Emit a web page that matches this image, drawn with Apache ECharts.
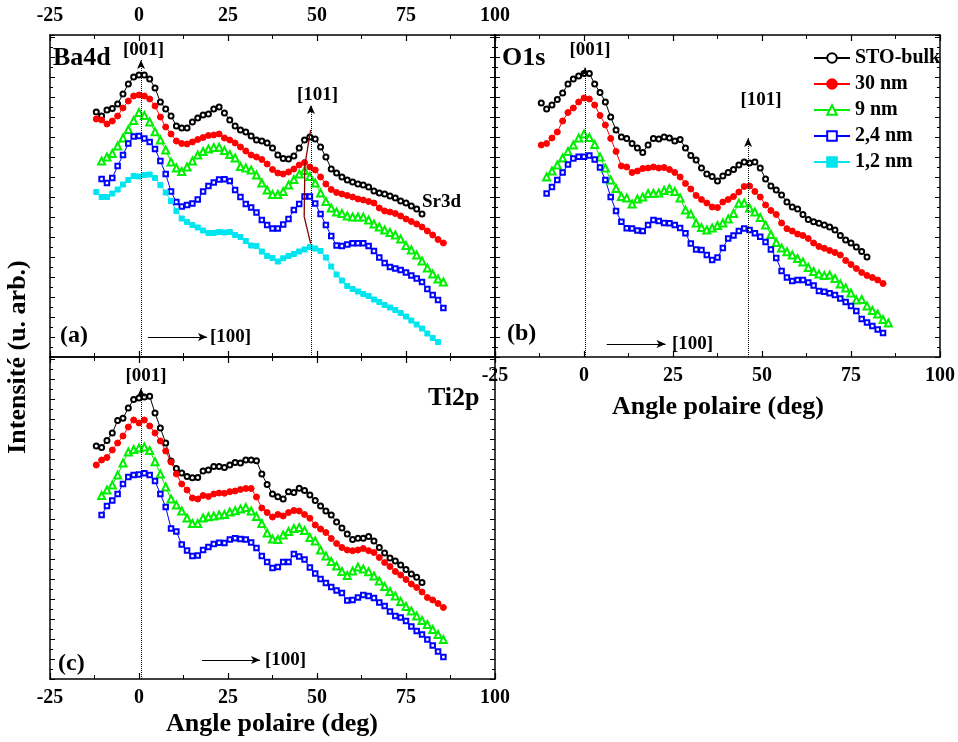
<!DOCTYPE html>
<html><head><meta charset="utf-8">
<script src="https://cdn.jsdelivr.net/npm/echarts@6/dist/echarts.min.js"></script>
<style>html,body{margin:0;padding:0;background:#fff}#c{width:958px;height:742px}</style>
</head><body><div id="c"></div>
<script>
// Polar angle grid (deg)
const ANGLES = [-12,-10.5,-9,-7.5,-6,-4.5,-3,-1.5,0,1.5,3,4.5,6,7.5,9,10.5,12,13.5,15,16.5,18,19.5,21,22.5,24,25.5,27,28.5,30,31.5,33,34.5,36,37.5,39,40.5,42,43.5,45,46.5,48,49.5,51,52.5,54,55.5,57,58.5,60,61.5,63,64.5,66,67.5,69,70.5,72,73.5,75,76.5,78,79.5,81,82.5,84,85.5];
const X_TICKS = [-25,0,25,50,75,100];
const NAMES = ['STO-bulk','30 nm','9 nm','2,4 nm','1,2 nm'];

// (a) Ba4d / Sr3d  (intensity, arb. units)
const A_BULK = [245,241,247,248.5,253,263,273,280,282,282,278,269,255,248,241,231,229,229,235,239,242,243,248,250,244,237,231,227,225,221,217,216,214,209,202,198.5,198,201,209,217,220,218,210,200,188,184,180,177,175,173,172,170,166,164,163,161,159,156,154,151,148,143];
const A_30 = [238,237,233,236,241,249,256,261,262,261,258,251,240,230,223,216,213.5,213,215,217.5,219.5,221.5,222,223,219,217,214,210,206,202,200,197.5,193,187.5,184,183,185,188,192,194.5,190,187,180,173,167.5,164.5,163,161.5,160,158,157,155.5,154,149,146,145,143.5,141,138,135.5,133,130,126,122,117.5,114];
const A_9 = [196,200,203.5,211,219,227.5,236.5,244.5,241.5,235,225.3,217,207,195,189,185.5,190,196,202,205.5,208,209.5,209.7,206.5,202.5,199,190.5,189,187,182,174,167,162.5,162.5,165.5,172,177.5,183,186.5,180.5,174,164,155.5,149,145,143.5,141,140,140,140,137,133,130,127,124.5,122,118,111.5,107,102,96,89,83,78,75];
const A_24 = [178,174,179,191,202,213.5,220.5,221,218.5,215,208,196,183,165.5,155,150.5,152,153.5,157.5,165.5,171,174.5,177.5,177.7,176,167,160,153,149.5,144.5,137,132,128.5,128.5,132.5,138,147,153,160.5,160.5,153.5,143,132,121,111.5,111,112.5,113.7,113.7,113.7,111,106,99.5,94,90,88.5,87,84.5,81.5,78.5,75,68,62,57,49];
const A_12 = [165,160,160,163.5,167.5,172.5,177,181,180.5,182,182.5,179,172,164.5,156,146,138.5,135,132,129.5,126.5,124,124,125,124.5,125,122,120,116,111.5,111,105.5,101,99,95.5,98.7,101,103,105.5,107.5,110,108.5,106,99.5,90.5,82.5,76.5,71,68,65.5,63,61,57.5,55,52,49.5,47,44,40.5,36.5,32.5,28.5,23.5,19,15];

// (b) O1s
const B_BULK = [254,248,252,257.5,264,273,278,281,283.5,283.5,273,264.5,255,240,227,220,218.5,213.5,209,204.5,212,218.5,218,220,219,216,217.5,209,201.5,197,189,183,180.5,176,181,184.5,187.5,192,195,194,195,189,178,171,167,162,155,150,148,142.5,137.5,135.3,133.7,132,130,127,121.5,117,114,110,105.5,100];
const B_30 = [212,213.5,219,225,236,244.5,249,255,259,258,252,241.5,232,218.5,205.5,191,190,184.5,186,188.5,189,190,189,189.5,187.5,184.5,180,173.5,168,161.5,157.5,154,150,149.5,155,157.5,160.5,165,170.5,171,165.5,160,152,146.5,142.5,134,128.3,126,123,121.5,118.5,114,110.5,108.7,106.5,104.5,102,96.5,92.5,88.5,84.5,81.5,79.5,77,73.5];
const B_9 = [180,186,192,199,205.5,212,219,223,219.5,212.5,200,189,177,168.5,160.5,159,153,158,160,163.5,163.7,164,166.5,168.5,165.5,159,147,143,134,129.5,127,129,131.5,134,138,143.5,153.7,154,149,145,139.5,132,122.5,114.5,109,105.3,102,98.5,95,89.5,85.5,83,81.5,82,78.5,73,69,64,57,57.5,51,46.5,43,37.5,34];
const B_24 = [163.5,170,177,184.5,192.5,198.5,200.3,200.3,201.5,197.5,189.5,177,160,146,135.3,128.7,128.5,126.5,126,132,137,136,134,133.7,132,129,123.7,113.5,107.5,107,102,97,99.5,109,118.5,121.5,126,128.5,127,123.7,120.3,115,107.5,99,86,79.5,76,77,77,74.5,71.5,66,65.3,63.7,62,58.5,55,51,46,38,34.5,31,27.5,24];

// (c) Ti2p
const C_BULK = [233,231.5,238.5,246,258.5,260.7,271,279.5,281,282,282.7,266,251,236,218,210.5,206,202.5,201.2,201.5,208,209,212.5,212.5,211.5,214,216.5,216,219,219,218.3,205,194.5,185,182.3,180,187.3,186.5,190.7,188.5,184,178.5,173,168,164,157,151,145,139.5,140.7,140.7,142.5,138,131.5,126,121,118,114,109.5,105,101.7,96.5];
const C_30 = [214,219,221.5,229,236,243,252,259,256,259,253,246,238,228,217,205,195,189,181,180,183.5,182.5,185,186,185.7,187.3,188,189.5,190.5,190.5,182,171,166.5,162,164.5,163,166.5,168.5,168,164.5,160.7,154,150,146.5,140.5,135.5,131.5,129,128.3,129,130.5,128.3,126.5,121.5,116.5,112.5,107.5,104,99.5,95,91.5,87,81.5,79,75.5,71.5];
const C_9 = [183.5,189,194,204,216,227,229.5,231,232,228.5,217.3,205,192,180,174,168,161,155.5,155.5,161,162.3,163,164,164.5,167,168.3,170,171.5,168,162.5,155.5,146,140,139.5,144,147.5,150.5,151.5,148.5,141.5,138,129,123,117.5,113,107.5,103.5,108,112,110,107.3,103,98,92.5,87.5,83,77.5,72.5,68,63,58.5,54.5,49.5,44.5,39.5];
const C_24 = [164,173,178.5,185,195,202,204,204.5,205.7,204,198,185,172,150.5,147.5,134.5,128.5,123,123.5,129,132,135,136.3,136,139.5,140.7,140,139.5,136.5,131,123,117,111,112,117,117,125,122.5,119.5,111.5,105.5,100,96,92,88.5,86,78.5,79,81.5,84,83,81,76.5,73,67.5,63,61.5,58,52.5,48,44.5,39.5,33.5,27.5,22];

const FONT = '"Liberation Serif", "Times New Roman", serif';
const STY = {
  'STO-bulk': {color:'#000000', symbol:'emptyCircle', size:5},
  '30 nm':    {color:'#ff0000', symbol:'circle', size:6},
  '9 nm':     {color:'#00ee00', symbol:'emptyTriangle', size:7},
  '2,4 nm':   {color:'#0000ff', symbol:'emptyRect', size:4.5},
  '1,2 nm':   {color:'#00e5f0', symbol:'rect', size:5}
};
function mk(name, vals, start, xi, yi, extra){
  const s = STY[name];
  return Object.assign({
    type:'line', name:name, xAxisIndex:xi, yAxisIndex:yi,
    data: vals.map((v,i)=>[ANGLES[start+i], v]),
    symbol:s.symbol, symbolSize:s.size, showSymbol:true, showAllSymbol:true,
    itemStyle:{color:s.color, borderColor:s.color, borderWidth:1},
    lineStyle:{color:s.color, width:1},
    silent:true, animation:false
  }, extra||{});
}
function ml(data, opts){
  return Object.assign({silent:true, animation:false, label:{show:false},
    symbol:['none','arrow'], symbolSize:[6,9],
    lineStyle:{color:'#000', width:1, type:'dotted'}, data:data}, opts||{});
}
function seg(x1,y1,x2,y2){ return [{coord:[x1,y1]},{coord:[x2,y2]}]; }

function xAx(grid, pos, labels){
  return {type:'value', gridIndex:grid, position:pos, min:X_TICKS[0], max:X_TICKS[X_TICKS.length-1], interval:25,
    axisLine:{show:true, onZero:false, lineStyle:{color:'#000', width:1.5}},
    axisTick:{show:true, inside:true, length:6, lineStyle:{color:'#000', width:1.2}},
    minorTick:{show:true, splitNumber:2, length:4, lineStyle:{color:'#000', width:1}},
    splitLine:{show:false}, minorSplitLine:{show:false},
    axisLabel:{show:labels, margin:9, color:'#000', fontFamily:FONT, fontWeight:'bold', fontSize:20, showMinLabel:true, showMaxLabel:true}};
}
function yAx(grid, pos){
  return {type:'value', gridIndex:grid, position:pos, min:0, max:322, interval:20,
    axisLine:{show:true, onZero:false, lineStyle:{color:'#000', width:1.5}},
    axisTick:{show:true, inside:true, length:5, lineStyle:{color:'#000', width:1}},
    minorTick:{show:true, splitNumber:2, length:3, lineStyle:{color:'#000', width:1}},
    splitLine:{show:false}, minorSplitLine:{show:false}, axisLabel:{show:false}};
}
function T(text, x, y, size, align, rot){
  const o = {type:'text', x:x, y:y, silent:true, z:100,
    style:{text:text, fill:'#000', font:'bold '+size+'px "Liberation Serif"',
      align:align||'center', textAlign:align||'center', verticalAlign:'middle', textVerticalAlign:'middle'}};
  if (rot) o.rotation = rot;
  return o;
}

const series = [
  // (a)
  mk('STO-bulk', A_BULK, 0, 0, 0, {markLine: ml([seg(0.56,0,0.56,297), seg(48.3,0,48.3,252)])}),
  mk('30 nm', A_30, 0, 0, 0, {markLine: ml([seg(2.5,20,19.1,20)], {lineStyle:{color:'#000', width:1, type:'solid'}})}),
  mk('9 nm', A_9, 1, 0, 0, {markLine: ml([seg(48.2,227,46.6,192), seg(46.6,192,46.4,140.3), seg(46.4,140.3,48.2,113.7)], {symbol:['none','none'], lineStyle:{color:'#800000', width:1.3, type:'solid'}})}),
  mk('2,4 nm', A_24, 1, 0, 0),
  mk('1,2 nm', A_12, 0, 0, 0),
  // (b)
  mk('STO-bulk', B_BULK, 0, 3, 2, {markLine: ml([seg(0.3,0,0.3,290), seg(46.1,0,46.1,219)])}),
  mk('30 nm', B_30, 0, 3, 2, {markLine: ml([seg(6.4,13,22.9,13)], {lineStyle:{color:'#000', width:1, type:'solid'}})}),
  mk('9 nm', B_9, 1, 3, 2),
  mk('2,4 nm', B_24, 1, 3, 2),
  // (c)
  mk('STO-bulk', C_BULK, 0, 5, 4, {markLine: ml([seg(0.56,0,0.56,291)])}),
  mk('30 nm', C_30, 0, 5, 4, {markLine: ml([seg(17.7,19,34,19)], {lineStyle:{color:'#000', width:1, type:'solid'}})}),
  mk('9 nm', C_9, 1, 5, 4),
  mk('2,4 nm', C_24, 1, 5, 4)
];

const option = {
  animation:false,
  backgroundColor:'#fff',
  grid:[
    {left:50, top:35, width:445, height:322, show:false},
    {left:495, top:35, width:447, height:322, show:false},
    {left:50, top:357, width:445, height:322, show:false}
  ],
  xAxis:[xAx(0,'top',true), xAx(0,'bottom',false), xAx(1,'top',false), xAx(1,'bottom',true), xAx(2,'top',false), xAx(2,'bottom',true)],
  yAxis:[yAx(0,'left'), yAx(0,'right'), yAx(1,'left'), yAx(1,'right'), yAx(2,'left'), yAx(2,'right')],
  legend:{data:NAMES, orient:'vertical', left:808, top:43, itemWidth:36, itemHeight:12, itemGap:6, selectedMode:false,
    textStyle:{fontFamily:FONT, fontWeight:'bold', fontSize:20, color:'#000'}},
  series:series,
  graphic:[
    T('Ba4d', 53, 58, 26, 'left'),
    T('O1s', 502, 58, 26, 'left'),
    T('Ti2p', 428, 398, 26, 'left'),
    T('[001]', 143.5, 50, 19),
    T('[001]', 590, 50, 19),
    T('[001]', 146, 376, 19),
    T('[101]', 317.5, 95, 19),
    T('[101]', 761, 100, 19),
    T('Sr3d', 422, 202, 19, 'left'),
    T('(a)', 60, 336, 24, 'left'),
    T('(b)', 507, 334, 24, 'left'),
    T('(c)', 58, 664, 24, 'left'),
    T('[100]', 210, 337, 19, 'left'),
    T('[100]', 672, 344, 19, 'left'),
    T('[100]', 265, 660, 19, 'left'),
    T('Angle polaire (deg)', 718, 407, 26),
    T('Angle polaire (deg)', 272, 724, 26),
    T('Intensité (u. arb.)', 18, 357, 26, 'center', Math.PI/2)
  ]
};
const chart = echarts.init(document.getElementById('c'));
chart.setOption(option);
</script>
</body></html>
